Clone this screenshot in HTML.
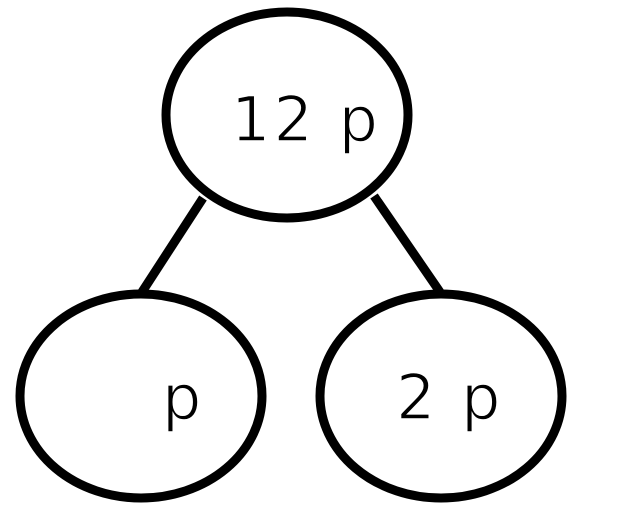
<!DOCTYPE html>
<html><head><meta charset="utf-8"><style>
html,body{margin:0;padding:0;background:#fff;width:640px;height:527px;overflow:hidden}
text{font-family:"DejaVu Sans","Liberation Sans",sans-serif;font-size:62px;fill:#000;letter-spacing:3px}
</style></head><body>
<svg width="640" height="527" viewBox="0 0 640 527" xmlns="http://www.w3.org/2000/svg">
<g stroke="#000" stroke-width="9" fill="none">
<line x1="203" y1="198" x2="142" y2="292"/>
<line x1="374" y1="196" x2="440" y2="292"/>
<ellipse cx="287" cy="115" rx="121" ry="103" fill="#fff"/>
<ellipse cx="141" cy="396" rx="121" ry="102" fill="#fff"/>
<ellipse cx="441" cy="396" rx="121" ry="102" fill="#fff"/>
</g>
<text x="231" y="141" stroke="#fff" stroke-width="1.5">12 p</text>
<text x="162" y="419" stroke="#fff" stroke-width="1.5">p</text>
<text x="396" y="419" stroke="#fff" stroke-width="1.5">2 p</text>
</svg>
</body></html>
